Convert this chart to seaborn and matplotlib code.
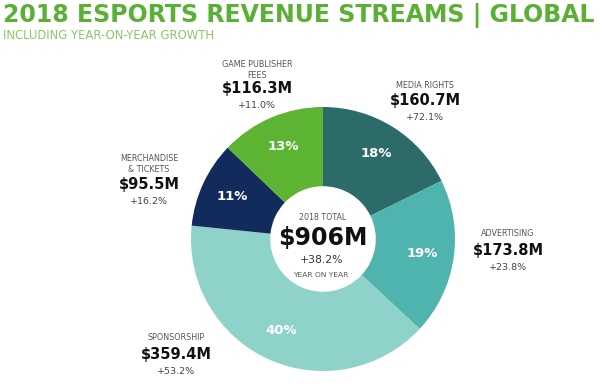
import matplotlib
matplotlib.use("Agg")
import matplotlib.pyplot as plt
import seaborn as sns

# Revenue streams, clockwise from 12 o'clock
streams = ["MEDIA RIGHTS", "ADVERTISING", "SPONSORSHIP", "MERCHANDISE\n& TICKETS", "GAME PUBLISHER\nFEES"]
revenue = [160.7, 173.8, 359.4, 95.5, 116.3]          # $M
growth = ["+72.1%", "+23.8%", "+53.2%", "+16.2%", "+11.0%"]
colors = ["#2c6b67", "#4fb4ae", "#8ed2ca", "#132b5c", "#5cb432"]

total_label = "$906M"
total_growth = "+38.2%"

sns.set_theme(style="white")
plt.rcParams["font.family"] = ["DejaVu Sans"]

W, H = 600, 388
fig = plt.figure(figsize=(6, 3.88), dpi=100)
fig.patch.set_facecolor("white")


def fx(x):
    return x / W


def fy(y):
    return 1 - y / H


# donut axes: centre (323, 239) px, radius 132 px
cx, cy, r = 323, 239, 132
ax = fig.add_axes([fx(cx - r), fy(cy + r), 2 * r / W, 2 * r / H])
wedges, _, autotexts = ax.pie(
    revenue, colors=colors, startangle=90, counterclock=False,
    autopct="%.0f%%", pctdistance=0.76,
    wedgeprops=dict(width=0.6, linewidth=0),
    textprops=dict(color="white", fontsize=9.5, fontweight="bold"),
)
ax.set_xlim(-1, 1)
ax.set_ylim(-1, 1)
ax.set_aspect("equal")
ax.axis("off")

# title
fig.text(fx(3), fy(22), "2018 ESPORTS REVENUE STREAMS | GLOBAL", color="#5aaf35",
         fontsize=17, fontweight="bold", va="baseline", ha="left")
fig.text(fx(3), fy(39), "INCLUDING YEAR-ON-YEAR GROWTH", color="#8cc56e",
         fontsize=8.4, va="baseline", ha="left")

# outside labels: (name y, value y, growth y, centre x)
label_pos = [
    (425, 85, 100, 117),
    (508, 234, 251, 268),
    (176, 337, 354, 372),
    (149, 164, 184, 201),
    (257, 70, 89, 106),
]
for (x, yn, yv, yg), name, val, g in zip(label_pos, streams, revenue, growth):
    fig.text(fx(x), fy(yn), name, ha="center", va="center", fontsize=5.8,
             color="#555555", linespacing=1.25)
    fig.text(fx(x), fy(yv), f"${val:.1f}M", ha="center", va="center", fontsize=10.5,
             fontweight="bold", color="#111111")
    fig.text(fx(x), fy(yg), g, ha="center", va="center", fontsize=6.8, color="#444444")

# centre text
fig.text(fx(323), fy(217), "2018 TOTAL", ha="center", va="center", fontsize=5.7, color="#555555")
fig.text(fx(323), fy(238), total_label, ha="center", va="center", fontsize=17,
         fontweight="bold", color="#111111")
fig.text(fx(322), fy(260), total_growth, ha="center", va="center", fontsize=7.8, color="#333333")
fig.text(fx(321), fy(275), "YEAR ON YEAR", ha="center", va="center", fontsize=5.4, color="#555555")

fig.savefig("out.png", dpi=100)
